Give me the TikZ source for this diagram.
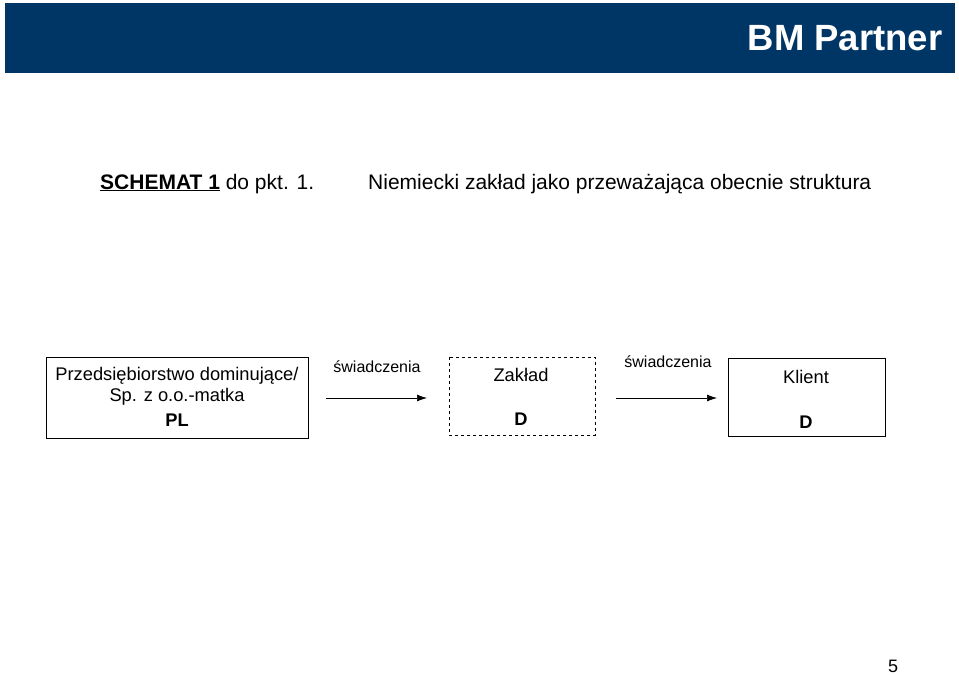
\documentclass[tikz,border=0pt]{standalone}
\usepackage{fontspec}
\setmainfont{Liberation Sans}
\usetikzlibrary{arrows.meta}
\definecolor{bmblue}{RGB}{0,54,101}
\begin{document}
\begin{tikzpicture}[x=1pt,y=-1pt,
  box/.style={draw,line width=0.8pt},
  lbl/.style={font=\fontsize{18.3}{21}\selectfont,inner sep=0pt},
  small/.style={font=\fontsize{16}{18}\selectfont,inner sep=0pt},
  flow/.style={-{Latex[length=10pt,width=7pt]},line width=0.7pt}]
\useasboundingbox (0,0) rectangle (959,675);
\fill[bmblue] (5,3) rectangle (955,73);
\node[anchor=east,text=white,font=\bfseries\fontsize{36.5}{40}\selectfont] (brand) at (946,38) {BM Partner};

\node[anchor=base west,inner sep=0pt,font=\fontsize{21}{24}\selectfont] (schem) at (100,189)
  {\textbf{\underline{SCHEMAT 1}} do pkt. 1.};
\node[anchor=base west,inner sep=0pt,font=\fontsize{21}{24}\selectfont] (title) at (368,189)
  {Niemiecki zakład jako przeważająca obecnie struktura};

% boxes
\draw[box] (46,357) rectangle (308,438);
\node[lbl] (pl1) at (177,376) {Przedsiębiorstwo dominujące/};
\node[lbl] (pl2) at (177,397) {Sp. z o.o.-matka};
\node[lbl,font=\bfseries\fontsize{18.3}{21}\selectfont] (pl3) at (177,420) {PL};

\draw[box,dashed,line width=0.6pt] (449,357) rectangle (595,435);
\node[lbl] (zak) at (521,375) {Zakład};
\node[lbl,font=\bfseries\fontsize{18.3}{21}\selectfont] (zakd) at (521,419) {D};

\draw[box] (728,358) rectangle (885,436);
\node[lbl] (kl) at (806,377) {Klient};
\node[lbl,font=\bfseries\fontsize{18.3}{21}\selectfont] (kld) at (806,422) {D};

% arrows
\coordinate (a1) at (326,398);
\coordinate (b1) at (427,398);
\coordinate (a2) at (616,398);
\coordinate (b2) at (717,398);
\draw[flow] (a1) -- (b1);
\draw[flow] (a2) -- (b2);
\node[small] (sw1) at (377,367) {świadczenia};
\node[small] (sw2) at (668,362) {świadczenia};

\node[anchor=base,font=\fontsize{18}{20}\selectfont,inner sep=0pt] (page) at (893,672) {5};
\end{tikzpicture}
\end{document}
